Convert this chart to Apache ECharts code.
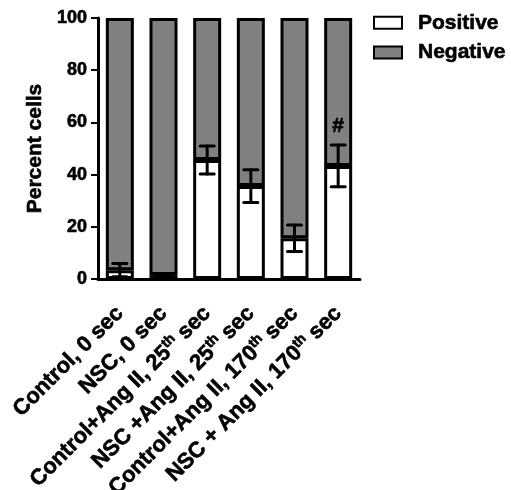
<!DOCTYPE html>
<html><head><meta charset="utf-8">
<script src="https://cdn.jsdelivr.net/npm/echarts@6/dist/echarts.min.js"></script>
<style>html,body{margin:0;padding:0;background:#fff}#c{width:511px;height:490px}</style>
</head><body><div id="c"></div>
<script>
const categories = ['Control, 0 sec', 'NSC, 0 sec', 'Control+Ang II, 25{sup|th} sec', 'NSC +Ang II, 25{sup|th} sec', 'Control+Ang II, 170{sup|th} sec', 'NSC + Ang II, 170{sup|th} sec'];
const positive = [3.4, 1.5, 45.6, 35.6, 15.6, 43.3];
const negative = [96.6, 98.5, 54.4, 64.4, 84.4, 56.7];
const positiveErr = [2.5, 0.4, 5.4, 6.3, 5.1, 8.0];
const annotations = ['', '', '', '', '', '#'];
const annotationY = [0, 0, 0, 0, 0, 58.5];
const yTicks = [0, 20, 40, 60, 80, 100];

const FONT = 'Liberation Sans';
const heavy = {textBorderColor: '#000', textBorderWidth: 0.6};
const chart = echarts.init(document.getElementById('c'), null, {renderer: 'canvas'});
const errData = positive.map((v, i) => [i, v, positiveErr[i], annotations[i], annotationY[i]]);
chart.setOption({
  animation: false,
  grid: {left: 98, right: 151, top: 18, bottom: 211, containLabel: false, outerBoundsMode: 'none'},
  legend: {
    data: ['Positive', 'Negative'],
    orient: 'vertical', left: 373, top: 12, padding: 0,
    itemWidth: 28, itemHeight: 12, itemGap: 8,
    icon: 'rect',
    textStyle: Object.assign({fontFamily: FONT, fontWeight: 'bold', fontSize: 21, color: '#000', padding: [0, 0, 0, 11]}, heavy)
  },
  xAxis: {
    type: 'category', data: categories,
    axisLine: {lineStyle: {color: '#000', width: 3}},
    axisTick: {alignWithLabel: true, length: 8, lineStyle: {color: '#000', width: 3}},
    axisLabel: Object.assign({
      rotate: 45, margin: 31, interval: 0, color: '#000',
      fontFamily: FONT, fontWeight: 'bold', fontSize: 22, lineHeight: 25,
      rich: {sup: Object.assign({fontFamily: FONT, fontWeight: 'bold', fontSize: 14, verticalAlign: 'top', lineHeight: 25, color: '#000'}, heavy)}
    }, heavy)
  },
  yAxis: {
    type: 'value', min: 0, max: 100, interval: 20,
    name: 'Percent cells', nameLocation: 'middle', nameGap: 45,
    nameTextStyle: Object.assign({fontFamily: FONT, fontWeight: 'bold', fontSize: 21, color: '#000'}, heavy),
    splitLine: {show: false},
    axisLine: {show: true, lineStyle: {color: '#000', width: 3}},
    axisTick: {show: true, length: 7, lineStyle: {color: '#000', width: 2}},
    axisLabel: Object.assign({color: '#000', fontFamily: FONT, fontWeight: 'bold', fontSize: 18, margin: 11,
      formatter: v => yTicks.includes(v) ? String(v) : ''}, heavy)
  },
  series: [
    {name: 'Positive', type: 'bar', stack: 's', data: positive, barWidth: 28,
     itemStyle: {color: '#ffffff', borderColor: '#000', borderWidth: 3}},
    {name: 'Negative', type: 'bar', stack: 's', data: negative, barWidth: 28,
     itemStyle: {color: '#808080', borderColor: '#000', borderWidth: 3}},
    {type: 'custom', z: 10, data: errData,
     renderItem: function (params, api) {
       const i = api.value(0), m = api.value(1), e = api.value(2);
       const top = api.coord([i, m + e]);
       const bot = api.coord([i, m - e]);
       const hw = 7;
       const ls = {stroke: '#000', lineWidth: 3, lineCap: 'round'};
       const children = [
         {type: 'line', shape: {x1: top[0], y1: top[1], x2: bot[0], y2: bot[1]}, style: ls},
         {type: 'line', shape: {x1: top[0] - hw, y1: top[1], x2: top[0] + hw, y2: top[1]}, style: ls},
         {type: 'line', shape: {x1: bot[0] - hw, y1: bot[1], x2: bot[0] + hw, y2: bot[1]}, style: ls}
       ];
       const txt = api.value(3);
       if (txt) {
         const p = api.coord([i, api.value(4)]);
         children.push({type: 'text', x: p[0], y: p[1], style: {text: txt, fontFamily: FONT, fontWeight: 'bold', fontSize: 21, fill: '#000', align: 'center', verticalAlign: 'middle', stroke: '#000', lineWidth: 0.6}});
       }
       return {type: 'group', children: children};
     }}
  ]
});
</script></body></html>
